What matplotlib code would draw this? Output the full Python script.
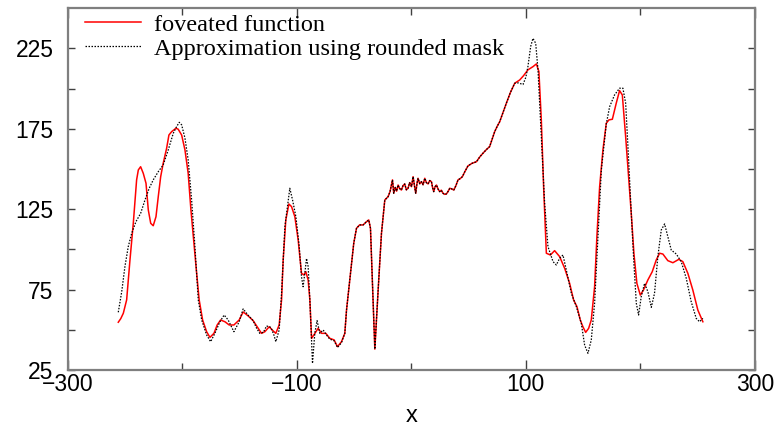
"""Foveated function vs. its rounded-mask approximation."""

import matplotlib
matplotlib.use("Agg")
import matplotlib.pyplot as plt
from matplotlib.ticker import FixedLocator

# foveated function, left part (x < -58)
FOV_LEFT_X = [-255.7, -253.5, -251.3, -248.4, -245.5, -242.6, -239.7, -238.2, -236.2, -233.9,
              -231.5, -229.5, -227.4, -225.2, -222.8, -220.8, -218.7, -216.5, -213.5, -211.5,
              -209.1, -205.4, -203.4, -200.4, -197.5, -194.7, -192.3, -189.7, -187.3, -185.1,
              -182.1, -178.6, -175.7, -172.2, -169.4, -166.4, -162.6, -158.9, -154.8, -150.2,
              -146.7, -142.3, -138.0, -134.5, -130.7, -127.8, -124.0, -121.4, -118.2, -115.3,
              -113.2, -111.8, -109.5, -106.8, -104.5, -101.6, -98.7, -95.8, -93.8, -92.0,
              -90.0, -88.5, -87.0, -85.0, -81.3, -78.3, -74.6, -71.1, -67.3, -64.4, -60.9]
FOV_LEFT_Y = [54.7, 57.0, 60.3, 68.6, 93.4, 116.2, 143.2, 149.4, 151.4, 147.3,
              141.1, 124.5, 116.2, 114.7, 120.3, 132.8, 145.2, 153.5, 162.9, 171.1,
              173.2, 175.3, 174.7, 171.1, 161.8, 147.3, 124.5, 103.8, 85.1, 68.6,
              56.1, 48.8, 45.3, 47.8, 53.0, 56.1, 55.0, 53.0, 53.0, 56.1,
              61.1, 58.6, 55.7, 51.9, 47.8, 48.8, 51.9, 49.9, 47.8, 53.0,
              68.6, 93.4, 118.3, 128.2, 126.6, 120.3, 105.8, 85.1, 84.1, 86.1,
              81.0, 68.6, 44.7, 46.8, 50.9, 47.8, 47.8, 44.7, 43.7, 39.5, 42.6]

# stretch where both curves coincide
SHARED_X = [-58.0, -56.5, -53.0, -50.2, -47.8, -45.1, -42.0, -39.1, -37.1, -35.6,
            -33.9, -31.8, -28.9, -26.0, -23.1, -20.2, -18.5, -16.4, -15.3, -14.0,
            -12.8, -11.5, -10.1, -8.6, -7.2, -5.7, -4.3, -2.8, -1.4, 0.2,
            1.6, 2.8, 3.9, 5.0, 5.9, 7.4, 8.9, 10.3, 11.8, 13.2,
            14.7, 16.1, 17.6, 18.6, 19.6, 20.8, 22.0, 23.4, 24.8, 26.2,
            27.7, 29.2, 30.7, 32.1, 33.6, 35.3, 37.1, 38.9, 40.8, 42.7,
            44.6, 46.9, 49.5, 53.0, 56.9, 59.8, 62.6, 65.5, 68.4, 70.6,
            72.8, 75.0, 77.2, 80.0, 83.0, 86.5, 90.3]
SHARED_Y = [47.8, 62.3, 85.1, 103.8, 113.1, 115.2, 115.2, 117.2, 118.3, 113.1,
            78.9, 38.0, 74.8, 110.0, 130.7, 132.8, 136.0, 143.2, 134.9, 138.5,
            136.2, 140.0, 137.8, 136.9, 139.6, 140.7, 137.0, 138.0, 141.5, 139.0,
            145.2, 139.5, 134.9, 141.0, 144.2, 140.8, 142.1, 140.2, 144.2, 141.5,
            140.7, 142.8, 142.1, 138.5, 135.9, 139.0, 140.0, 137.5, 135.9, 136.8,
            134.9, 134.2, 134.5, 136.0, 138.0, 137.6, 136.9, 139.5, 143.2, 144.0,
            145.2, 148.5, 151.9, 153.5, 154.5, 157.5, 159.8, 162.0, 163.9, 168.5,
            173.2, 176.5, 179.4, 185.0, 190.9, 197.5, 203.3]

# foveated function, right part (x > 90)
FOV_RIGHT_X = [94.6, 98.0, 101.8, 106.2, 109.2, 111.4, 113.5, 115.5, 117.9, 121.4,
               125.1, 129.5, 133.9, 138.2, 141.7, 144.6, 147.5, 149.8, 152.2, 154.8,
               157.1, 160.0, 162.0, 164.4, 167.3, 170.2, 172.5, 175.5, 178.9, 181.8,
               184.2, 187.1, 189.9, 192.0, 194.3, 196.9, 199.9, 202.7, 206.5, 210.3,
               213.8, 216.7, 219.6, 223.9, 228.3, 233.5, 237.0, 241.4, 245.7, 250.1, 254.5]
FOV_RIGHT_Y = [205.3, 208.0, 211.6, 213.6, 215.3, 210.5, 180.5, 139.0, 97.6, 96.5,
               99.2, 95.5, 88.2, 78.9, 68.5, 64.4, 56.1, 51.9, 48.4, 50.9,
               56.1, 76.8, 107.9, 139.0, 162.0, 178.4, 180.5, 180.9, 190.9, 198.7,
               196.0, 170.1, 143.2, 122.4, 97.6, 78.9, 71.6, 74.8, 81.0, 86.1,
               93.4, 97.6, 97.1, 93.0, 91.7, 93.8, 92.4, 85.1, 74.8, 62.3, 55.0]

# rounded-mask approximation, left part
APX_LEFT_X = [-255.7, -252.7, -249.9, -247.0, -244.0, -240.3, -236.2, -232.4, -228.7, -225.2,
              -220.8, -216.5, -212.1, -207.7, -204.8, -202.5, -200.4, -197.5, -194.7, -191.7,
              -188.8, -185.9, -182.9, -178.6, -175.1, -171.4, -167.0, -163.3, -159.8, -154.8,
              -150.2, -146.7, -142.3, -138.0, -135.0, -132.2, -129.0, -126.3, -122.5, -120.0,
              -118.2, -115.3, -113.2, -110.3, -106.0, -103.6, -100.7, -97.8, -95.8, -94.4,
              -92.9, -91.4, -90.0, -88.5, -87.0, -86.2, -84.2, -82.2, -79.8, -76.9,
              -74.0, -71.1, -67.3, -64.4, -60.9]
APX_LEFT_Y = [60.9, 73.7, 89.3, 101.7, 110.0, 117.2, 122.4, 130.7, 138.0, 143.2,
              148.3, 152.5, 161.8, 172.2, 176.3, 179.0, 177.4, 169.1, 155.6, 130.7,
              101.7, 68.6, 56.1, 46.8, 42.6, 47.8, 55.0, 59.2, 56.1, 48.8,
              55.0, 63.0, 59.0, 55.7, 51.0, 47.8, 48.5, 52.4, 51.5, 47.0,
              42.6, 49.9, 72.7, 114.1, 138.0, 130.7, 120.3, 102.0, 83.0, 76.8,
              85.1, 94.4, 89.3, 68.6, 43.7, 29.2, 47.8, 55.7, 47.8, 49.9,
              46.8, 44.2, 43.2, 39.0, 42.0]

# rounded-mask approximation, right part
APX_RIGHT_X = [93.5, 97.5, 100.0, 101.8, 104.2, 106.2, 108.6, 110.6, 113.5, 116.4,
               119.3, 123.7, 126.6, 129.5, 132.4, 135.3, 139.7, 144.1, 148.4, 151.3,
               154.2, 157.1, 160.0, 162.9, 165.9, 170.2, 173.1, 177.4, 181.8, 184.7,
               187.1, 189.4, 192.0, 194.3, 196.4, 198.4, 200.7, 203.6, 206.5, 209.5,
               212.3, 215.2, 218.2, 221.1, 223.9, 226.9, 231.3, 235.6, 240.0, 244.3,
               248.7, 251.6, 254.5]
APX_RIGHT_Y = [203.5, 202.5, 207.0, 213.6, 226.1, 231.2, 228.1, 211.6, 170.1, 128.7,
               101.7, 92.4, 90.3, 94.5, 96.5, 87.2, 72.7, 64.4, 54.0, 40.5,
               35.4, 43.7, 66.5, 107.9, 149.4, 178.0, 188.7, 196.0, 200.2, 200.2,
               190.9, 159.8, 122.4, 91.4, 66.5, 59.2, 70.6, 78.9, 73.7, 64.0,
               72.7, 95.5, 112.1, 115.8, 107.9, 99.6, 97.1, 92.4, 82.0, 67.5,
               57.1, 55.0, 57.1]

X_MAJOR = [-300, -100, 100, 300]
X_MINOR = [-200, 0, 200]
Y_MAJOR = [25, 75, 125, 175, 225]
Y_MINOR = [50, 100, 150, 200]


def main() -> None:
    fov_x = FOV_LEFT_X + SHARED_X + FOV_RIGHT_X
    fov_y = FOV_LEFT_Y + SHARED_Y + FOV_RIGHT_Y
    apx_x = APX_LEFT_X + SHARED_X + APX_RIGHT_X
    apx_y = APX_LEFT_Y + SHARED_Y + APX_RIGHT_Y

    fig = plt.figure(figsize=(7.77, 4.29), dpi=100)
    ax = fig.add_axes([0.0869, 0.1375, 0.8848, 0.8436])

    ax.plot(fov_x, fov_y, color="#ff0000", lw=1.1, label="foveated function")
    ax.plot(apx_x, apx_y, color="black", lw=0.9, dashes=(1.2, 1.2),
            label="Approximation using rounded mask")

    ax.set_xlim(-300, 300)
    ax.set_ylim(25, 250)
    ax.xaxis.set_major_locator(FixedLocator(X_MAJOR))
    ax.xaxis.set_minor_locator(FixedLocator(X_MINOR))
    ax.yaxis.set_major_locator(FixedLocator(Y_MAJOR))
    ax.yaxis.set_minor_locator(FixedLocator(Y_MINOR))
    ax.set_xticklabels(["\u2212300", "\u2212100", "100", "300"])

    for side in ax.spines.values():
        side.set_color("#7f7f7f")
        side.set_linewidth(1.6)
    ax.tick_params(which="both", direction="in", top=True, right=True,
                   color="#404040", width=1.0)
    ax.tick_params(axis="x", which="major", length=7, pad=2.5)
    ax.tick_params(axis="x", which="minor", length=5)
    ax.tick_params(axis="y", which="both", length=5, pad=10)
    for lab in ax.get_xticklabels() + ax.get_yticklabels():
        lab.set_fontfamily("Liberation Sans")
        lab.set_fontsize(16.5)

    ax.set_xlabel("x", fontfamily="Liberation Sans", fontsize=17, labelpad=6)

    ax.legend(loc="upper left", bbox_to_anchor=(0.012, 1.012), frameon=False,
              prop={"family": "Liberation Serif", "size": 17.5},
              handlelength=2.3, handletextpad=0.5, labelspacing=0.1,
              borderaxespad=0.0)

    fig.savefig("out.png", dpi=100)


if __name__ == "__main__":
    main()
